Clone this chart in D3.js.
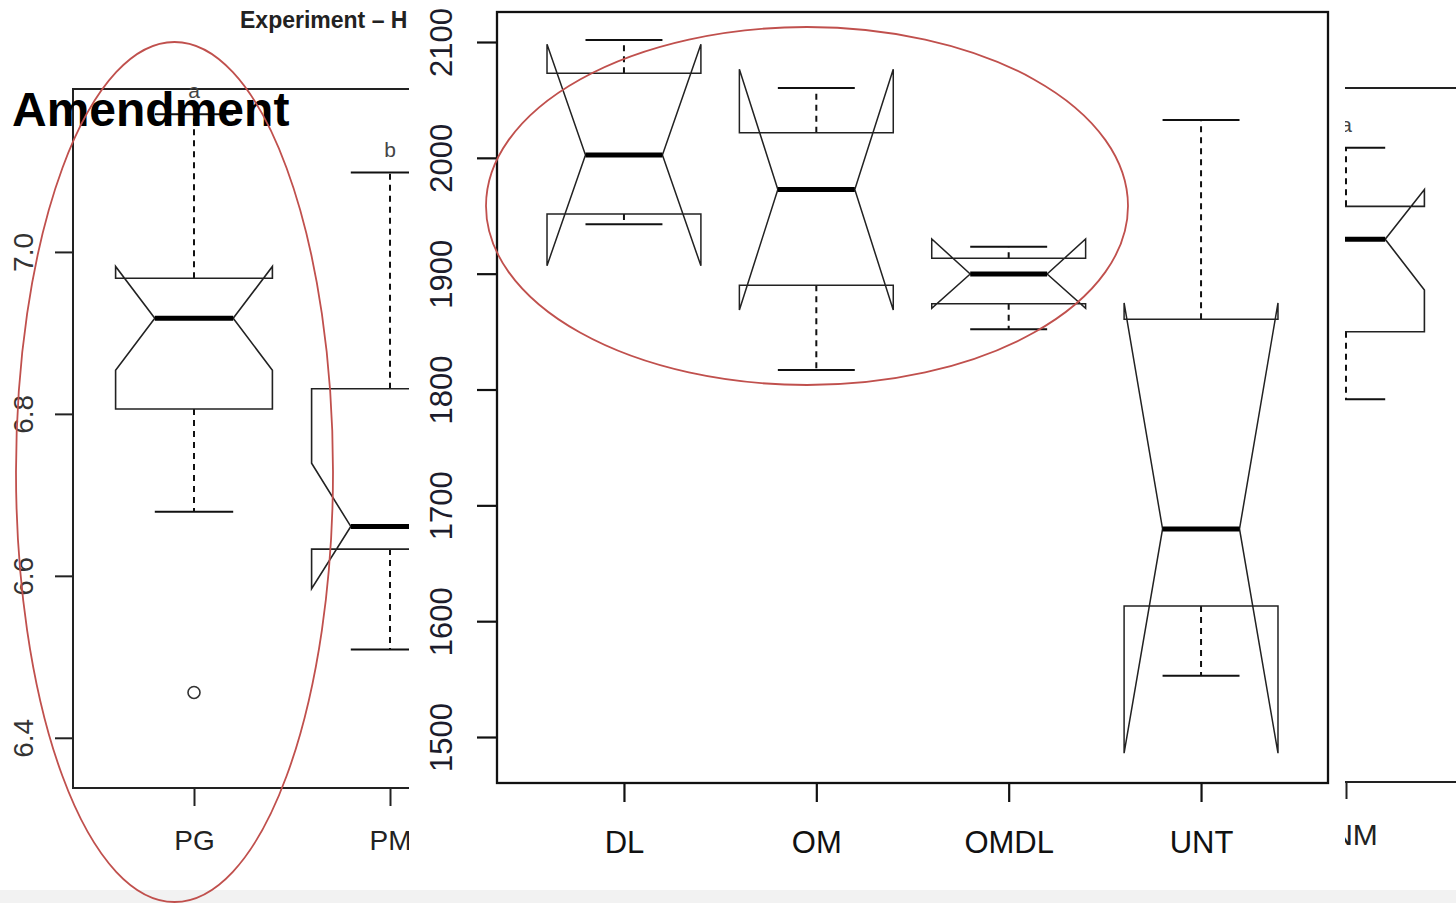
<!DOCTYPE html>
<html>
<head>
<meta charset="utf-8">
<script src="https://cdn.jsdelivr.net/npm/d3@7/dist/d3.min.js"></script>
<style>
  body { margin: 0; background: #fff; }
  svg { display: block; font-family: "Liberation Sans", Arial, sans-serif; }
</style>
</head>
<body>
<div id="chart"></div>
<script>
'use strict';

// main panel (front)
var mainCats = ['DL', 'OM', 'OMDL', 'UNT'];
var mainLow = [1942.6, 1816.8, 1852.0, 1552.9];
var mainQ1 = [1951.5, 1889.9, 1874.1, 1613.1];
var mainMed = [2002.4, 1972.7, 1899.7, 1679.6];
var mainQ3 = [2073.0, 2021.6, 1913.3, 1860.6];
var mainHigh = [2101.7, 2060.3, 1923.3, 2032.7];
var mainNotchLo = [1906.9, 1868.6, 1870.1, 1486.0];
var mainNotchHi = [2098.0, 2076.4, 1930.0, 1874.7];
var mainTicks = [1500, 1600, 1700, 1800, 1900, 2000, 2100];

// left panel (behind)
var leftCats = ['PG', 'PM'];
var leftLow = [6.679, 6.509];
var leftQ1 = [6.806, 6.633];
var leftMed = [6.918, 6.661];
var leftQ3 = [6.9675, 6.831];
var leftHigh = [7.170, 7.098];
var leftNotchLo = [6.854, 6.584];
var leftNotchHi = [6.982, 6.739];
var leftLetters = ['a', 'b'];
var leftOutliers = [{cat: 'PG', v: 6.456}];
var leftTicks = [6.4, 6.6, 6.8, 7.0];

// right panel (behind)
var rightCats = ['NM'];
var rightLow = [6.814];
var rightQ1 = [6.898];
var rightMed = [7.013];
var rightQ3 = [7.054];
var rightHigh = [7.127];
var rightNotchLo = [6.950];
var rightNotchHi = [7.075];
var rightLetters = ['a'];

var W = 1456, H = 903;
var RED = '#c0504d';

var svg = d3.select('#chart').append('svg')
	.attr('width', W)
	.attr('height', H);

function makeStats(cats, low, q1, med, q3, high, nlo, nhi, letters) {
	return cats.map(function(c, i) {
		return {cat: c, low: low[i], q1: q1[i], med: med[i], q3: q3[i], high: high[i],
			nlo: nlo[i], nhi: nhi[i], letter: letters ? letters[i] : null};
	});
}

// notched box outline, same point order as R's bxp
function notchPath(d, cx, w, y) {
	var pts = [
		[cx - w, d.q1], [cx + w, d.q1], [cx + w, d.nlo], [cx + w / 2, d.med],
		[cx + w, d.nhi], [cx + w, d.q3], [cx - w, d.q3], [cx - w, d.nhi],
		[cx - w / 2, d.med], [cx - w, d.nlo]
	];
	return d3.line()(pts.map(function(p) { return [p[0], y(p[1])]; })) + 'Z';
}

function drawBoxes(g, stats, x, y, w, opt) {
	var box = g.selectAll('.box')
		.data(stats)
		.enter()
		.append('g')
		.classed('box', 1);

	//whiskers
	box.append('line')
		.attr('x1', function(d) { return x(d.cat); })
		.attr('x2', function(d) { return x(d.cat); })
		.attr('y1', function(d) { return y(d.q3); })
		.attr('y2', function(d) { return y(d.high); })
		.attr('stroke', '#111').attr('stroke-width', opt.wlw).attr('stroke-dasharray', opt.dash);
	box.append('line')
		.attr('x1', function(d) { return x(d.cat); })
		.attr('x2', function(d) { return x(d.cat); })
		.attr('y1', function(d) { return y(d.q1); })
		.attr('y2', function(d) { return y(d.low); })
		.attr('stroke', '#111').attr('stroke-width', opt.wlw).attr('stroke-dasharray', opt.dash);

	//staples
	['high', 'low'].forEach(function(k) {
		box.append('line')
			.attr('x1', function(d) { return x(d.cat) - w / 2; })
			.attr('x2', function(d) { return x(d.cat) + w / 2; })
			.attr('y1', function(d) { return y(d[k]); })
			.attr('y2', function(d) { return y(d[k]); })
			.attr('stroke', '#111').attr('stroke-width', opt.wlw);
	});

	//notched box
	box.append('path')
		.attr('d', function(d) { return notchPath(d, x(d.cat), w, y); })
		.attr('fill', 'none')
		.attr('stroke', opt.boxColor)
		.attr('stroke-width', opt.blw)
		.attr('stroke-linejoin', 'miter');

	//median
	box.append('line')
		.attr('x1', function(d) { return x(d.cat) - w / 2; })
		.attr('x2', function(d) { return x(d.cat) + w / 2; })
		.attr('y1', function(d) { return y(d.med); })
		.attr('y2', function(d) { return y(d.med); })
		.attr('stroke', '#000').attr('stroke-width', opt.mlw);

	//group letters
	if (opt.letters) {
		box.append('text')
			.attr('x', function(d) { return x(d.cat); })
			.attr('y', function(d) { return y(d.high) - 16; })
			.attr('text-anchor', 'middle')
			.attr('font-size', 21)
			.attr('fill', '#444')
			.text(function(d) { return d.letter; });
	}
}

// ---------- left background chart ----------
var left = svg.append('g');
var leftY = d3.scaleLinear().domain([6.338, 7.2012]).range([788, 89]);
var leftX = d3.scalePoint().domain(leftCats).range([194, 390]);
var leftW = leftX.step() * 0.4;

left.append('text')
	.attr('x', 240).attr('y', 28)
	.attr('font-size', 23).attr('font-weight', 'bold').attr('fill', '#222')
	.text('Experiment \u2013 H');

left.append('rect')
	.attr('x', 73).attr('y', 89).attr('width', 900).attr('height', 699)
	.attr('fill', 'none').attr('stroke', '#222').attr('stroke-width', 2);

var leftAxis = left.append('g')
	.attr('transform', 'translate(73,0)')
	.call(d3.axisLeft(leftY).tickValues(leftTicks).tickSize(18).tickSizeOuter(0).tickFormat(d3.format('.1f')));
leftAxis.select('.domain').remove();
leftAxis.selectAll('line').attr('stroke', '#222').attr('stroke-width', 2);
leftAxis.selectAll('text')
	.attr('x', null).attr('dy', null).attr('y', 0)
	.attr('transform', 'translate(-40,0) rotate(-90)')
	.attr('text-anchor', 'middle')
	.attr('font-size', 28).attr('fill', '#333');

var leftXAxis = left.append('g')
	.attr('transform', 'translate(0,788)')
	.call(d3.axisBottom(leftX).tickSize(18).tickSizeOuter(0));
leftXAxis.select('.domain').remove();
leftXAxis.selectAll('line').attr('stroke', '#222').attr('stroke-width', 2);
leftXAxis.selectAll('text')
	.attr('y', 62).attr('dy', null)
	.attr('font-size', 28).attr('fill', '#222');

drawBoxes(left, makeStats(leftCats, leftLow, leftQ1, leftMed, leftQ3, leftHigh, leftNotchLo, leftNotchHi, leftLetters),
	leftX, leftY, leftW, {wlw: 2, blw: 1.6, mlw: 5, dash: '6,5', boxColor: '#222', letters: true});

left.selectAll('.outlier')
	.data(leftOutliers)
	.enter()
	.append('circle')
	.attr('cx', function(d) { return leftX(d.cat); })
	.attr('cy', function(d) { return leftY(d.v); })
	.attr('r', 6)
	.attr('fill', 'none').attr('stroke', '#333').attr('stroke-width', 1.6);

// ---------- right background chart ----------
var right = svg.append('g');
var rightY = d3.scaleLinear().domain([6.338, 7.2012]).range([782, 88]);
var rightX = d3.scalePoint().domain(rightCats).range([1346, 1346]);
var rightW = leftW;

right.append('rect')
	.attr('x', 1000).attr('y', 88).attr('width', 600).attr('height', 694)
	.attr('fill', 'none').attr('stroke', '#222').attr('stroke-width', 2);

var rightXAxis = right.append('g')
	.attr('transform', 'translate(0,782)')
	.call(d3.axisBottom(rightX).tickSize(17).tickSizeOuter(0));
rightXAxis.select('.domain').remove();
rightXAxis.selectAll('line').attr('stroke', '#222').attr('stroke-width', 2);
rightXAxis.selectAll('text')
	.attr('y', 63).attr('dy', null).attr('dx', 8)
	.attr('font-size', 30).attr('fill', '#222');

drawBoxes(right, makeStats(rightCats, rightLow, rightQ1, rightMed, rightQ3, rightHigh, rightNotchLo, rightNotchHi, rightLetters),
	rightX, rightY, rightW, {wlw: 2, blw: 1.6, mlw: 5, dash: '6,5', boxColor: '#222', letters: true});

// "Amendment" heading over the left chart
svg.append('text')
	.attr('x', 12).attr('y', 126)
	.attr('font-size', 48).attr('font-weight', 'bold').attr('fill', '#000')
	.text('Amendment');

// ---------- main chart ----------
svg.append('rect')
	.attr('x', 409).attr('y', 0).attr('width', 1345 - 409).attr('height', 890)
	.attr('fill', '#fff');

var main = svg.append('g');
var y = d3.scaleLinear().domain([1460.3, 2125.9]).range([783, 12]);
var x = d3.scalePoint().domain(mainCats).range([497, 1328]).padding(0.66);
var boxW = x.step() * 0.4;

var yAxis = main.append('g')
	.attr('transform', 'translate(497,0)')
	.call(d3.axisLeft(y).tickValues(mainTicks).tickSize(20).tickSizeOuter(0).tickFormat(d3.format('d')));
yAxis.select('.domain').remove();
yAxis.selectAll('line').attr('stroke', '#111').attr('stroke-width', 2.2);
yAxis.selectAll('text')
	.attr('x', null).attr('dy', null).attr('y', 0)
	.attr('transform', 'translate(-45,0) rotate(-90)')
	.attr('text-anchor', 'middle')
	.attr('font-size', 31).attr('fill', '#1c1c2c');

var xAxis = main.append('g')
	.attr('transform', 'translate(0,783)')
	.call(d3.axisBottom(x).tickSize(19).tickSizeOuter(0));
xAxis.select('.domain').remove();
xAxis.selectAll('line').attr('stroke', '#111').attr('stroke-width', 2.2);
xAxis.selectAll('text')
	.attr('y', 70).attr('dy', null)
	.attr('font-size', 31).attr('fill', '#111');

drawBoxes(main, makeStats(mainCats, mainLow, mainQ1, mainMed, mainQ3, mainHigh, mainNotchLo, mainNotchHi, null),
	x, y, boxW, {wlw: 2, blw: 1.5, mlw: 5, dash: '6,5', boxColor: '#222', letters: false});

//plot frame
main.append('rect')
	.attr('x', 497).attr('y', 12).attr('width', 1328 - 497).attr('height', 783 - 12)
	.attr('fill', 'none').attr('stroke', '#111').attr('stroke-width', 2.3);

// grey strip at the bottom of the screenshot
svg.append('rect')
	.attr('x', 0).attr('y', 890).attr('width', W).attr('height', H - 890)
	.attr('fill', '#f2f2f2');

// annotation ellipses on top
svg.append('ellipse')
	.attr('cx', 174.5).attr('cy', 472).attr('rx', 158.5).attr('ry', 430)
	.attr('fill', 'none').attr('stroke', RED).attr('stroke-width', 1.8);
svg.append('ellipse')
	.attr('cx', 807).attr('cy', 206).attr('rx', 321).attr('ry', 179)
	.attr('fill', 'none').attr('stroke', RED).attr('stroke-width', 1.8);
</script>
</body>
</html>
